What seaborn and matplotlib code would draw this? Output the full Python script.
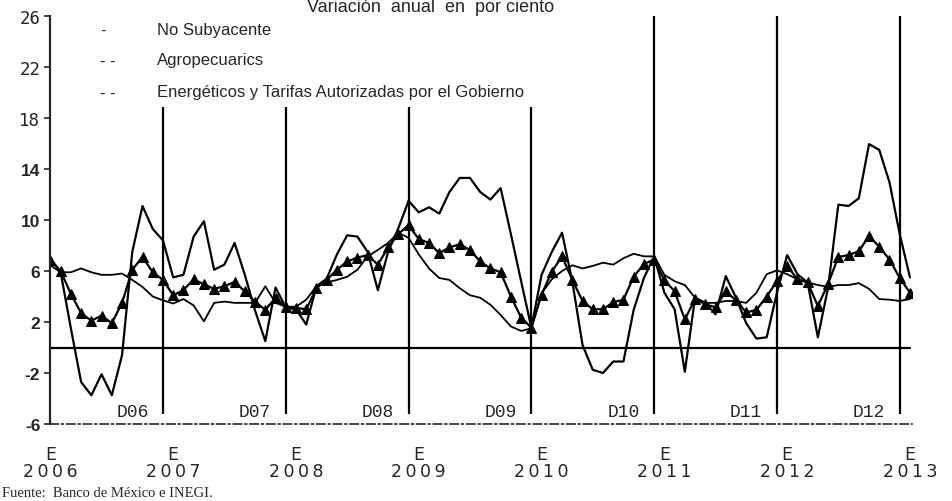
import matplotlib

matplotlib.use("Agg")

import matplotlib.pyplot as plt
import pandas as pd
import seaborn as sns

# Variación anual en por ciento, meses desde enero 2006 hasta enero 2013
no_subyacente = [
    6.85, 6.0, 4.2, 2.7, 2.1, 2.5, 1.9, 3.5, 6.1, 7.1, 5.9, 5.3,
    4.1, 4.5, 5.35, 4.95, 4.6, 4.8, 5.15, 4.4, 3.6, 2.95, 3.9, 3.15,
    3.1, 3.0, 4.65, 5.3, 6.1, 6.75, 7.05, 7.25, 6.5, 7.85, 8.9, 9.6,
    8.5, 8.2, 7.4, 7.85, 8.1, 7.65, 6.75, 6.2, 5.9, 4.0, 2.35, 1.55,
    4.15, 5.95, 7.15, 5.3, 3.65, 3.0, 3.0, 3.55, 3.75, 5.55, 6.55, 6.9,
    5.3, 4.4, 2.2, 3.8, 3.4, 3.15, 4.4, 3.7, 2.75, 2.95, 4.0, 5.2,
    6.4, 5.35, 5.1, 3.25, 5.0, 7.1, 7.25, 7.55, 8.75, 7.9, 6.9, 5.45,
    4.3,
]
agropecuarios = [
    7.0, 5.9, 1.5, -2.7, -3.75, -2.1, -3.75, -0.6, 7.5, 11.1, 9.3, 8.4,
    5.5, 5.7, 8.7, 9.9, 6.1, 6.5, 8.2, 5.7, 2.9, 0.5, 4.7, 3.15,
    3.0, 1.8, 4.8, 5.4, 7.3, 8.8, 8.7, 7.5, 4.5, 7.5, 9.35, 11.5,
    10.6, 11.0, 10.5, 12.2, 13.3, 13.3, 12.2, 11.6, 12.5, 8.9, 5.2, 1.55,
    5.7, 7.5, 9.0, 5.2, 0.2, -1.75, -2.0, -1.1, -1.1, 2.95, 5.45, 7.15,
    4.3, 3.0, -1.9, 3.9, 3.5, 2.6, 5.6, 3.9, 1.9, 0.7, 0.8, 4.3,
    7.25, 5.75, 5.1, 0.8, 4.7, 11.2, 11.1, 11.7, 15.95, 15.5, 12.95, 8.9,
    5.5,
]
energeticos = [
    6.45, 5.9, 5.9, 6.2, 5.9, 5.7, 5.7, 5.8, 5.3, 4.75, 4.0, 3.7,
    3.45, 3.8, 3.3, 2.05, 3.5, 3.6, 3.5, 3.5, 3.5, 4.8, 3.5, 3.2,
    3.2, 3.75, 4.8, 5.1, 5.3, 5.55, 6.1, 7.15, 7.65, 8.2, 9.0, 8.6,
    7.3, 6.2, 5.45, 5.3, 4.65, 4.1, 3.9, 3.35, 2.55, 1.65, 1.3, 1.5,
    4.25, 5.35, 6.0, 6.45, 6.2, 6.4, 6.65, 6.5, 7.0, 7.35, 7.15, 7.15,
    5.7, 5.2, 4.9, 3.9, 3.5, 3.5, 3.65, 3.65, 3.5, 4.3, 5.75, 6.05,
    5.75, 5.35, 5.1, 4.9, 4.75, 4.9, 4.9, 5.05, 4.6, 3.8, 3.75, 3.65,
    3.8,
]
years = ["2006", "2007", "2008", "2009", "2010", "2011", "2012", "2013"]
dec_labels = ["D06", "D07", "D08", "D09", "D10", "D11", "D12"]
y_ticks = [26, 22, 18, 14, 10, 6, 2, -2, -6]

df = pd.DataFrame({
    "mes": range(len(no_subyacente)),
    "No Subyacente": no_subyacente,
    "Agropecuarios": agropecuarios,
    "Energeticos": energeticos,
})

sns.set_style("white")
plt.rcParams["font.family"] = ["Liberation Sans", "DejaVu Sans"]

fig = plt.figure(figsize=(9.52, 5.02), dpi=100)
ax = fig.add_axes([50 / 952, 77 / 502, 862 / 952, 408 / 502])

sns.lineplot(data=df, x="mes", y="Energeticos", color="black", linewidth=1.3, ax=ax)
sns.lineplot(data=df, x="mes", y="Agropecuarios", color="black", linewidth=1.6, ax=ax)
sns.lineplot(data=df, x="mes", y="No Subyacente", color="black", linewidth=1.6,
             marker="^", markersize=7, markeredgecolor="black", ax=ax)

ax.axhline(0, color="black", linewidth=1.6, xmin=0, xmax=0.998)

# líneas verticales en diciembre de cada año
for i, mes in enumerate(range(11, 84, 12)):
    top = 18.9 if i < 4 else 26
    ax.vlines(mes, -5.2, top, color="black", linewidth=1.6)
    ax.text(mes - 3, -5.05, dec_labels[i], family="Liberation Mono", fontsize=13,
            ha="center", va="center")

ax.set_xlim(-0.04, 84.2)
ax.set_ylim(-6, 26)

# años con un poco de espacio entre dígitos, como en el original
ax.set_xticks(range(0, 85, 12))
ax.set_xticklabels(["E\n" + "\u2009".join(y) for y in years], family="DejaVu Sans",
                   fontsize=12.5, linespacing=0.95)
ax.tick_params(axis="x", length=0, pad=15)

ax.set_yticks(y_ticks)
ax.set_yticklabels([str(v) for v in y_ticks], fontsize=12.5)
for lbl, v in zip(ax.get_yticklabels(), y_ticks):
    if v >= 18:
        lbl.set_family("DejaVu Sans Mono")
    else:
        lbl.set_family("Liberation Sans")
        lbl.set_fontweight("bold")
ax.tick_params(axis="y", length=4, width=1.2, pad=3, direction="out", left=True)

ax.set_xlabel("")
ax.set_ylabel("")
for side in ["top", "right"]:
    ax.spines[side].set_visible(False)
ax.spines["left"].set_linewidth(1.6)
ax.spines["bottom"].set_linewidth(1.2)
ax.spines["bottom"].set_linestyle((0, (5, 2, 1, 2)))

fig.text(307 / 952, 1 - 12 / 502, "Variación  anual  en  por ciento", fontsize=13,
         va="baseline", ha="left")

legend_rows = [("-", "No Subyacente", 31), ("- -", "Agropecuarics", 61),
               ("- -", "Energéticos y Tarifas Autorizadas por el Gobierno", 93)]
for dash, label, ypx in legend_rows:
    fig.text(100 / 952, 1 - ypx / 502, dash, fontsize=12, va="center")
    fig.text(157 / 952, 1 - ypx / 502, label, fontsize=12, va="center")

fig.text(2 / 952, 1 - 497 / 502, "Fuente:  Banco de México e INEGI.",
         family="Liberation Serif", fontsize=10.5, va="baseline")

fig.savefig("out.png", dpi=100)
